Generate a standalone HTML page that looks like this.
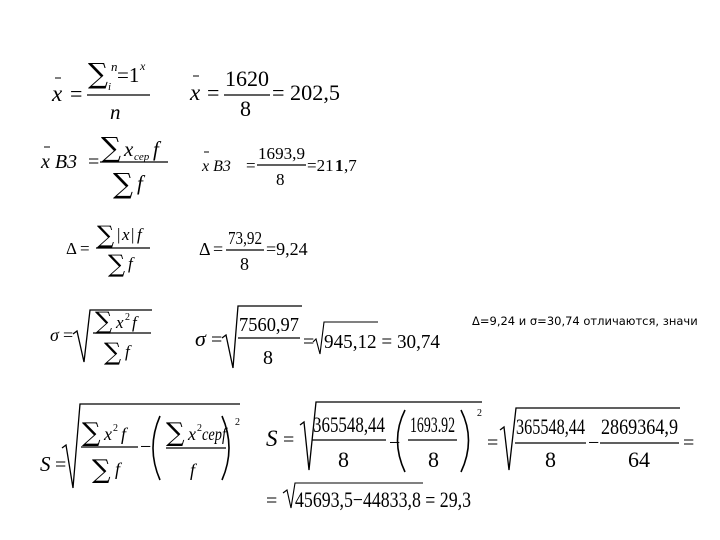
<!DOCTYPE html>
<html><head><meta charset="utf-8"><style>
html,body{margin:0;padding:0;background:#fff;width:720px;height:540px;overflow:hidden}
svg{display:block}
svg text{font-family:"Liberation Serif","DejaVu Serif",serif;fill:#000}
svg text.i{font-style:italic}
svg text.s{font-family:"DejaVu Serif","Liberation Serif",serif}
</style></head><body>
<svg width="720" height="540" viewBox="0 0 720 540" xmlns="http://www.w3.org/2000/svg">
<g stroke="#000" stroke-width="1.3" fill="none">
<line x1="87" y1="95" x2="150" y2="95"/><line x1="55" y1="78" x2="61" y2="78" stroke-width="1"/>
<line x1="224" y1="95" x2="270" y2="95"/><line x1="193" y1="76" x2="199" y2="76" stroke-width="1"/>
<line x1="100" y1="162" x2="168" y2="162"/><line x1="44" y1="147" x2="50" y2="147" stroke-width="1"/>
<line x1="257" y1="165" x2="306" y2="165"/><line x1="204" y1="152" x2="209" y2="152" stroke-width="1"/>
<line x1="96" y1="248" x2="150" y2="248"/>
<line x1="226" y1="250" x2="264" y2="250"/>
<polyline points="73,334 77,331 84,362 90,310 152,310"/>
<line x1="93" y1="333" x2="151" y2="333"/>
<polyline points="222,338 226,335 233,368 238,306 302,306"/>
<line x1="238" y1="338" x2="300" y2="338"/>
<polyline points="313,342 316,339 320,354 324,322 378,322" stroke-width="1.1"/>
<polyline points="62,448 66,445 73,488 80,404 240,404"/>
<line x1="81" y1="447" x2="138" y2="447"/>
<line x1="166" y1="448" x2="226" y2="448"/>
<path d="M160,416 Q146,448 160,480" stroke-width="1.6"/>
<path d="M222,416 Q236,448 222,480" stroke-width="1.6"/>
<polyline points="300,425 304,422 309,470 316,402 482,402"/>
<line x1="312" y1="440" x2="386" y2="440"/>
<line x1="408" y1="440" x2="457" y2="440"/>
<path d="M405,410 Q390,440 405,472" stroke-width="1.6"/>
<path d="M461,410 Q476,440 461,472" stroke-width="1.6"/>
<polyline points="500,430 504,427 509,470 516,408 680,408"/>
<line x1="515" y1="443" x2="586" y2="443"/>
<line x1="600" y1="443" x2="679" y2="443"/>
<polyline points="283,493 287,490 291,508 295,483 423,483" stroke-width="1.1"/>
</g>
<text x="52" y="101" font-size="23" class="i">x</text>
<text x="70" y="101" font-size="22">=</text>
<text x="88" y="83" font-size="28" class="s">∑</text>
<text x="111" y="71" font-size="13" class="i">n</text>
<text x="117" y="82" font-size="21">=1</text>
<text x="140" y="70" font-size="12" class="i">x</text>
<text x="108" y="90" font-size="11" class="i">i</text>
<text x="110" y="119" font-size="21" class="i">n</text>
<text x="190" y="100" font-size="23" class="i">x</text>
<text x="207" y="100" font-size="22">=</text>
<text x="225" y="86" font-size="22" textLength="44" lengthAdjust="spacingAndGlyphs">1620</text>
<text x="240" y="116" font-size="22">8</text>
<text x="272" y="100" font-size="22" textLength="68" lengthAdjust="spacingAndGlyphs">= 202,5</text>
<text x="41" y="168" font-size="20" class="i">x В3</text>
<text x="88" y="168" font-size="20">=</text>
<text x="101" y="157" font-size="28" class="s">∑</text>
<text x="124" y="156" font-size="21" class="i">x</text>
<text x="134" y="160" font-size="11" class="i">cep</text>
<text x="153" y="156" font-size="21" class="i">f</text>
<text x="113" y="193" font-size="28" class="s">∑</text>
<text x="137" y="190" font-size="21" class="i">f</text>
<text x="202" y="171" font-size="16" class="i">x В3</text>
<text x="246" y="171" font-size="17">=</text>
<text x="258" y="159" font-size="17" textLength="47" lengthAdjust="spacingAndGlyphs">1693,9</text>
<text x="276" y="185" font-size="17">8</text>
<text x="307" y="171" font-size="17">=21</text><text x="335" y="171" font-size="17" font-weight="bold">1</text><text x="344" y="171" font-size="17">,7</text>
<text x="66" y="254" font-size="17">Δ</text>
<text x="80" y="254" font-size="17">=</text>
<text x="97" y="243" font-size="24" class="s">∑</text>
<text x="117" y="240" font-size="17">|</text><text x="122" y="240" font-size="17" class="i">x</text><text x="131" y="240" font-size="17">|</text><text x="137" y="240" font-size="17" class="i">f</text>
<text x="108" y="272" font-size="24" class="s">∑</text>
<text x="128" y="269" font-size="17" class="i">f</text>
<text x="199" y="255" font-size="18">Δ</text>
<text x="213" y="255" font-size="18">=</text>
<text x="228" y="244" font-size="18" textLength="34" lengthAdjust="spacingAndGlyphs">73,92</text>
<text x="240" y="270" font-size="18">8</text>
<text x="266" y="255" font-size="18">=9,24</text>
<text x="50" y="341" font-size="18" class="i">σ</text>
<text x="63" y="341" font-size="18">=</text>
<text x="95" y="329" font-size="24" class="s">∑</text>
<text x="116" y="328" font-size="17" class="i">x</text>
<text x="125" y="320" font-size="10">2</text>
<text x="132" y="328" font-size="17" class="i">f</text>
<text x="104" y="360" font-size="24" class="s">∑</text>
<text x="125" y="357" font-size="17" class="i">f</text>
<text x="195" y="346" font-size="22" class="i">σ</text>
<text x="211" y="346" font-size="20">=</text>
<text x="239" y="331" font-size="20" textLength="60" lengthAdjust="spacingAndGlyphs">7560,97</text>
<text x="263" y="364" font-size="20">8</text>
<text x="303" y="348" font-size="20">=</text>
<text x="324" y="348" font-size="20" textLength="116" lengthAdjust="spacingAndGlyphs">945,12 = 30,74</text>
<text x="472" y="325" font-size="11.5" style="font-family:'DejaVu Sans','Liberation Sans',sans-serif">Δ=9,24  и  σ=30,74 отличаются, значи</text>
<text x="40" y="471" font-size="21" class="i">S</text>
<text x="55" y="471" font-size="20">=</text>
<text x="82" y="441" font-size="26" class="s">∑</text>
<text x="104" y="440" font-size="18" class="i">x</text>
<text x="113" y="431" font-size="10">2</text>
<text x="121" y="440" font-size="18" class="i">f</text>
<text x="92" y="478" font-size="26" class="s">∑</text>
<text x="115" y="475" font-size="18" class="i">f</text>
<text x="140" y="453" font-size="20">−</text>
<text x="166" y="441" font-size="26" class="s">∑</text>
<text x="188" y="440" font-size="18" class="i">x</text>
<text x="197" y="431" font-size="10">2</text>
<text x="202" y="440" font-size="18" class="i" textLength="24" lengthAdjust="spacingAndGlyphs">cepf</text>
<text x="190" y="476" font-size="18" class="i">f</text>
<text x="235" y="425" font-size="10">2</text>
<text x="266" y="446" font-size="23" class="i">S</text>
<text x="283" y="446" font-size="20">=</text>
<text x="313" y="432" font-size="22" textLength="72" lengthAdjust="spacingAndGlyphs">365548,44</text>
<text x="338" y="467" font-size="22">8</text>
<text x="389" y="449" font-size="20">−</text>
<text x="410" y="432" font-size="22" textLength="45" lengthAdjust="spacingAndGlyphs">1693.92</text>
<text x="428" y="467" font-size="22">8</text>
<text x="477" y="416" font-size="10">2</text>
<text x="487" y="449" font-size="20">=</text>
<text x="516" y="434" font-size="22" textLength="69" lengthAdjust="spacingAndGlyphs">365548,44</text>
<text x="545" y="467" font-size="22">8</text>
<text x="588" y="449" font-size="20">−</text>
<text x="601" y="434" font-size="22" textLength="77" lengthAdjust="spacingAndGlyphs">2869364,9</text>
<text x="628" y="467" font-size="22">64</text>
<text x="683" y="449" font-size="20">=</text>
<text x="266" y="507" font-size="20">=</text>
<text x="295" y="507" font-size="22" textLength="176" lengthAdjust="spacingAndGlyphs">45693,5−44833,8 = 29,3</text>
</svg>
</body></html>
